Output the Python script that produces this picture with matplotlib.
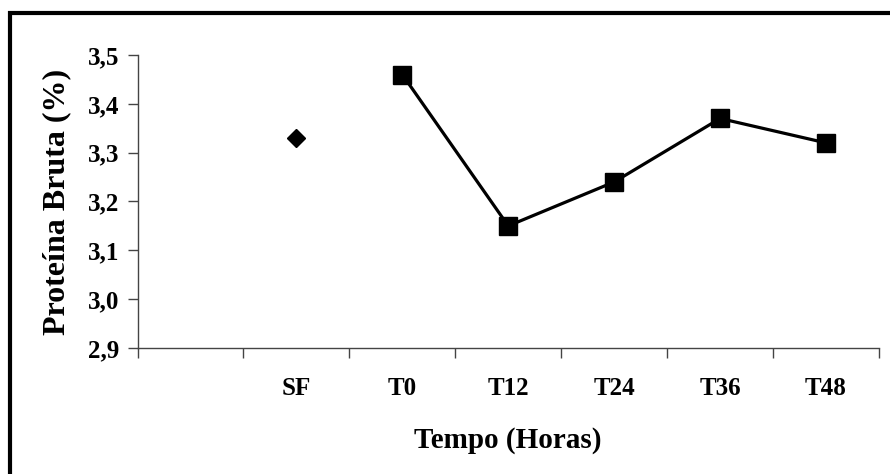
import numpy as np
import matplotlib
matplotlib.use("Agg")
from matplotlib import pyplot as plt
from matplotlib.lines import Line2D
from matplotlib.ticker import FixedLocator, FixedFormatter

# categories on the x axis (first slot is empty in the original)
categories = ["", "SF", "T0", "T12", "T24", "T36", "T48"]
sf_value = 3.33
time_labels = ["T0", "T12", "T24", "T36", "T48"]
time_values = [3.46, 3.15, 3.24, 3.37, 3.32]
y_ticks = [2.9, 3.0, 3.1, 3.2, 3.3, 3.4, 3.5]

plt.rcParams['font.family'] = ['Liberation Serif', 'DejaVu Serif']
plt.rcParams['font.weight'] = 'bold'

fig = plt.figure(figsize=(8.9, 4.74), dpi=100)
ax = fig.add_axes([0.1545, 0.2658, 0.9876 - 0.1545, 0.884 - 0.2658])

xpos = {c: i for i, c in enumerate(categories)}

# SF as a lone diamond
ax.plot([xpos["SF"]], [sf_value], marker='D', color='black', markersize=9, linestyle='none')
# time series with squares
ax.plot([xpos[t] for t in time_labels], time_values, color='black', linewidth=2.3,
        marker='s', markersize=12.5)

ax.set_xlim(-0.5, len(categories) - 0.5)
ax.set_ylim(2.9, 3.5)

# ticks at category boundaries, labels at centres
ax.xaxis.set_major_locator(FixedLocator(np.arange(-0.5, len(categories), 1.0)))
ax.xaxis.set_major_formatter(FixedFormatter([""] * (len(categories) + 1)))
ax.xaxis.set_minor_locator(FixedLocator(np.arange(len(categories))))
ax.xaxis.set_minor_formatter(FixedFormatter(categories))
ax.tick_params(axis='x', which='major', direction='out', length=7, width=1, color='#444444')
ax.tick_params(axis='x', which='minor', length=0, pad=21, labelsize=18)

ax.set_yticks(y_ticks)
ax.set_yticklabels([f"{v:.1f}".replace(".", ",") for v in y_ticks])
ax.tick_params(axis='y', direction='out', length=7, width=1, color='#444444', labelsize=18, pad=6)

for side in ['top', 'right']:
    ax.spines[side].set_visible(False)
for side in ['left', 'bottom']:
    ax.spines[side].set_color('#444444')
    ax.spines[side].set_linewidth(1)

ax.set_xlabel("Tempo (Horas)", fontsize=21, fontweight='bold', labelpad=19)
ax.set_ylabel("Proteína Bruta (%)", fontsize=23, fontweight='bold', labelpad=12)

# black frame (only left and top edges visible in the picture)
fig.add_artist(Line2D([10 / 890, 10 / 890], [0, 1 - 11 / 474], color='black', linewidth=3,
                      solid_capstyle='butt', transform=fig.transFigure))
fig.add_artist(Line2D([8 / 890, 1], [1 - 13 / 474, 1 - 13 / 474], color='black', linewidth=3,
                      solid_capstyle='butt', transform=fig.transFigure))

fig.savefig("out.png", dpi=100)
